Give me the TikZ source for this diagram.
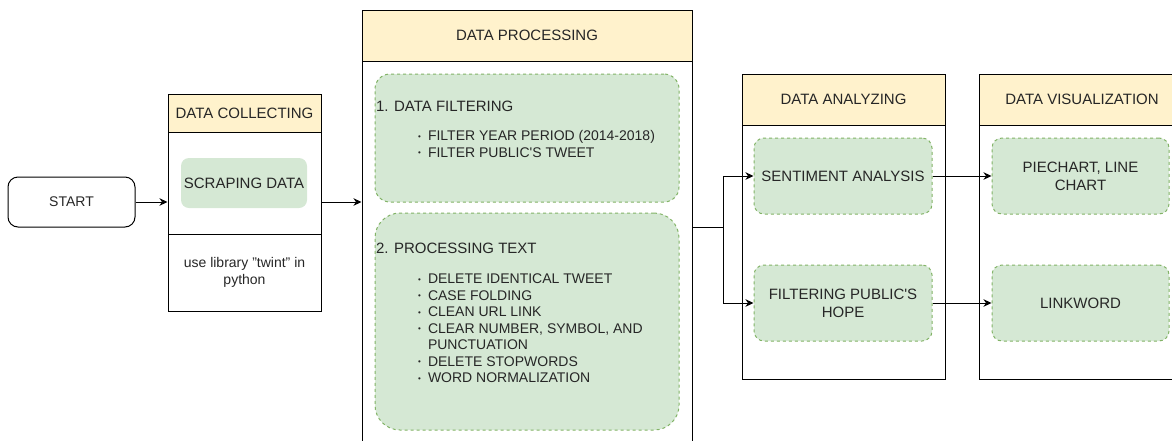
\documentclass[tikz,border=0pt]{standalone}
\usepackage{fontspec}
\setmainfont{Liberation Sans}
\usepackage{tikz}
\usetikzlibrary{positioning, calc, arrows.meta}
\tikzset{>={Stealth[length=8pt, width=7.5pt, inset=2.5pt]}}
\definecolor{headfill}{HTML}{FFF2CC}
\definecolor{greenfill}{HTML}{D5E8D4}
\definecolor{greenline}{HTML}{82B366}
\newcommand{\bul}{\makebox[10pt][l]{\raisebox{1.5pt}{\fontsize{8}{8}\selectfont\textbullet}}}
\newcommand{\pitem}{\\\hspace*{42pt}\bul}

\begin{document}
\begin{tikzpicture}
    [x=1pt, y=-1pt, line width=1pt,
     every node/.style={inner sep=0, text=black!85, font=\fontsize{15}{18}\selectfont},
     small/.style={font=\fontsize{14}{16.5}\selectfont},
     lane/.style={draw},
     head/.style={draw, fill=headfill},
     stepbox/.style={draw=greenline, fill=greenfill, dash pattern=on 3pt off 3pt, align=center},
     listtxt/.style={align=left, font=\fontsize{14}{16.5}\selectfont}]
    \useasboundingbox (0,0) rectangle (1172,440);

    \node [small, draw, rounded corners=10pt, minimum width=127, minimum height=50] (start) at (71.5,202) {START};

    \node [lane, minimum width=153, minimum height=217] (coll) at (244.5,202.5) {};
    \node [head, minimum width=153, minimum height=38] (collhead) at (244.5,113) {DATA COLLECTING};
    \node [fill=greenfill, rounded corners=8pt, minimum width=126, minimum height=50] (scrape) at (244,183) {SCRAPING DATA};
    \node [small, draw, align=center, minimum width=153, minimum height=77] (twint) at (244.5,272.5) {use library "twint" in\\python};

    \node [lane, minimum width=330, minimum height=440] (proc) at (527,230) {};
    \node [head, minimum width=330, minimum height=51] (prochead) at (527,35.5) {DATA PROCESSING};
    \node [stepbox, rounded corners=15pt, minimum width=304, minimum height=128] (filt) at (527,138) {};
    \node [listtxt, below right=27pt and 1pt of filt.north west] (filtlist)
        {{\fontsize{15}{18}\selectfont 1. DATA FILTERING}\\[13pt]
         \hspace*{42pt}\bul FILTER YEAR PERIOD (2014-2018)\pitem FILTER PUBLIC\textquotesingle S TWEET};
    \node [stepbox, rounded corners=25pt, minimum width=304, minimum height=217] (text) at (527,321.5) {};
    \node [listtxt, below right=30pt and 1pt of text.north west] (textlist)
        {{\fontsize{15}{18}\selectfont 2. PROCESSING TEXT}\\[14pt]
         \hspace*{42pt}\bul DELETE IDENTICAL TWEET\pitem CASE FOLDING\pitem CLEAN URL LINK
         \pitem CLEAR NUMBER, SYMBOL, AND\\\hspace*{52pt}PUNCTUATION
         \pitem DELETE STOPWORDS\pitem WORD NORMALIZATION};

    \node [lane, minimum width=203, minimum height=305] (ana) at (843.5,226.5) {};
    \node [head, minimum width=203, minimum height=51] (anahead) at (843.5,99.5) {DATA ANALYZING};
    \node [stepbox, rounded corners=10pt, minimum width=178, minimum height=76] (senti) at (843,176) {SENTIMENT ANALYSIS};
    \node [stepbox, rounded corners=10pt, minimum width=178, minimum height=76] (hope) at (843,303) {FILTERING PUBLIC\textquotesingle S\\HOPE};

    \node [lane, minimum width=206, minimum height=305] (vis) at (1082,226.5) {};
    \node [head, minimum width=206, minimum height=51] (vishead) at (1082,99.5) {DATA VISUALIZATION};
    \node [stepbox, rounded corners=10pt, minimum width=177, minimum height=76] (pie) at (1080.5,176) {PIECHART, LINE\\CHART};
    \node [stepbox, rounded corners=10pt, minimum width=177, minimum height=76] (link) at (1080.5,303) {LINKWORD};

    \draw [->] (start.east) -- (start.east -| coll.west);
    \draw [->] (start.east -| coll.east) -- (start.east -| proc.west);

    \coordinate (split) at (723,227);
    \draw (proc.east |- split) -- (split);
    \draw [->] (split) |- (senti);
    \draw [->] (split) |- (hope);

    \draw [->] (senti) -- (pie);
    \draw [->] (hope) -- (link);
  \end{tikzpicture}
\end{document}
